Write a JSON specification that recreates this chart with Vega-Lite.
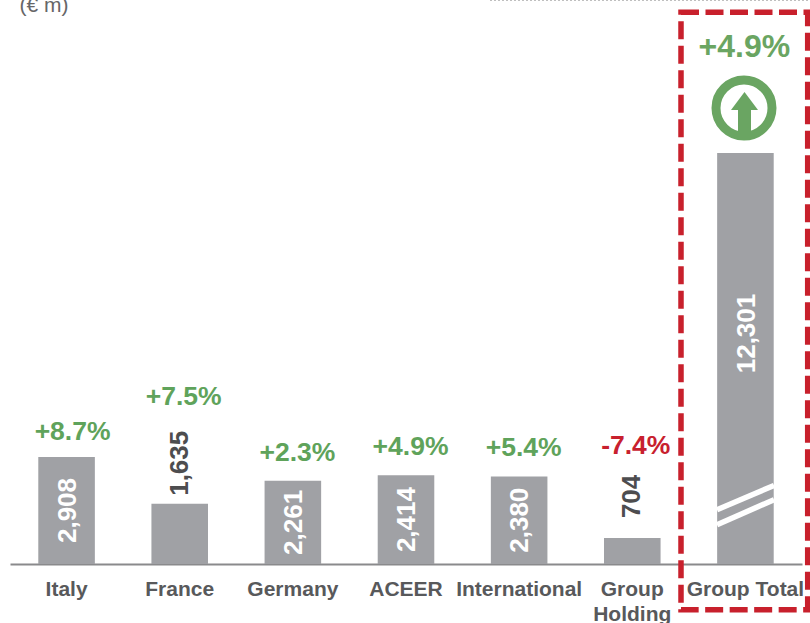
{
"$schema":"https://vega.github.io/schema/vega-lite/v6.json",
"width":810,"height":564,"autosize":"none",
"padding":{"left":0,"top":0,"right":0,"bottom":59},
"background":"white",
"config":{"view":{"stroke":null},"axisY":{"disable":true},"font":"Liberation Sans"},
"datasets":{
"regions":[
{"region":"Italy","shown":2908,"value":2908,"change":"+8.7%","room":"inside"},
{"region":"France","shown":1635,"value":1635,"change":"+7.5%","room":"outside"},
{"region":"Germany","shown":2261,"value":2261,"change":"+2.3%","room":"inside"},
{"region":"ACEER","shown":2414,"value":2414,"change":"+4.9%","room":"inside"},
{"region":"International","shown":2380,"value":2380,"change":"+5.4%","room":"inside"},
{"region":"Group Holding","shown":704,"value":704,"change":"-7.4%","room":"outside"},
{"region":"Group Total","shown":11168,"value":12301,"change":"+4.9%","room":"total"}
]},
"data":{"name":"regions"},
"resolve":{"scale":{"x":"independent"}},
"layer":[
{"encoding":{
  "x":{"field":"region","type":"nominal","sort":null,
    "scale":{"range":[10,802],"paddingInner":0.5,"paddingOuter":0.25},
    "title":null,
    "axis":{"domainColor":"#8a8a8c","domainWidth":2,"ticks":false,"labelAngle":0,"labelFont":"Liberation Sans","labelFontWeight":"bold","labelFontSize":21,"labelColor":"#58595b","labelPadding":14,"labelLineHeight":25,"labelLimit":200,"labelOverlap":false,"labelBaseline":"top","grid":false,
      "labelExpr":"datum.value=='Group Holding'?['Group','Holding']:datum.value"}},
  "y":{"field":"shown","type":"quantitative","scale":{"domain":[0,15326],"nice":false,"zero":false},"title":null}
 },
 "layer":[
  {"mark":{"type":"bar","color":"#a0a1a5"}},
  {"transform":[{"filter":"datum.room=='inside'"},{"calculate":"datum.shown/2","as":"mid"}],
   "mark":{"type":"text","angle":270,"align":"center","baseline":"middle","fontSize":26,"fontWeight":"bold","color":"white","xOffset":1},
   "encoding":{"y":{"field":"mid","type":"quantitative"},"text":{"field":"value","type":"quantitative","format":","}}},
  {"transform":[{"filter":"datum.room=='total'"},{"calculate":"datum.shown/2","as":"mid"}],
   "mark":{"type":"text","angle":270,"align":"center","baseline":"middle","fontSize":26,"fontWeight":"bold","color":"white","yOffset":-25,"xOffset":2},
   "encoding":{"y":{"field":"mid","type":"quantitative"},"text":{"field":"value","type":"quantitative","format":","}}},
  {"transform":[{"filter":"datum.region=='France'"}],
   "mark":{"type":"text","angle":270,"align":"left","baseline":"middle","fontSize":26,"fontWeight":"bold","color":"#4d4d4f","yOffset":-8},
   "encoding":{"text":{"field":"value","type":"quantitative","format":","}}},
  {"transform":[{"filter":"datum.region=='Group Holding'"}],
   "mark":{"type":"text","angle":270,"align":"left","baseline":"middle","fontSize":26,"fontWeight":"bold","color":"#4d4d4f","yOffset":-20},
   "encoding":{"text":{"field":"value","type":"quantitative","format":","}}},
  {"transform":[{"filter":"datum.room=='inside' && datum.region!='Italy'"}],
   "mark":{"type":"text","align":"center","baseline":"middle","fontSize":26.5,"fontWeight":"bold","color":"#5fa35b","xOffset":4.5,"yOffset":-28},
   "encoding":{"text":{"field":"change"}}},
  {"transform":[{"filter":"datum.region=='Italy'"}],
   "mark":{"type":"text","align":"center","baseline":"middle","fontSize":26.5,"fontWeight":"bold","color":"#5fa35b","xOffset":6,"yOffset":-25},
   "encoding":{"text":{"field":"change"}}},
  {"transform":[{"filter":"datum.region=='France'"}],
   "mark":{"type":"text","align":"center","baseline":"middle","fontSize":26.5,"fontWeight":"bold","color":"#5fa35b","xOffset":4,"yOffset":-107},
   "encoding":{"text":{"field":"change"}}},
  {"transform":[{"filter":"datum.region=='Group Holding'"}],
   "mark":{"type":"text","align":"center","baseline":"middle","fontSize":26.5,"fontWeight":"bold","color":"#c8202e","xOffset":3.5,"yOffset":-92},
   "encoding":{"text":{"field":"change"}}},
  {"transform":[{"filter":"datum.region=='Group Total'"}],
   "mark":{"type":"text","align":"center","baseline":"middle","fontSize":32,"fontWeight":"bold","color":"#6aa562","xOffset":-1,"yOffset":-106},
   "encoding":{"text":{"field":"change"}}}
 ]},
{"layer":[
  {"data":{"values":[{"x":490,"x2":810,"y":15326}]},
   "mark":{"type":"rule","color":"#aaaaaa","strokeWidth":1.5,"strokeDash":[2,2]},
   "encoding":{"x":{"field":"x","type":"quantitative","scale":{"domain":[0,810],"range":[0,810],"nice":false,"zero":false},"axis":null},"x2":{"field":"x2"},"y":{"field":"y","type":"quantitative"}}},
  {"data":{"values":[{"x":681,"x2":807.7,"y":14990,"y2":-1240}]},
   "mark":{"type":"rect","filled":false,"stroke":"#c8202c","strokeWidth":5.5,"strokeDash":[18,6.5]},
   "encoding":{"x":{"field":"x","type":"quantitative","axis":null},"x2":{"field":"x2"},"y":{"field":"y","type":"quantitative"},"y2":{"field":"y2"}}},
  {"data":{"values":[{"x":744,"y":12391}]},
   "mark":{"type":"point","shape":"circle","filled":false,"stroke":"#6aa562","strokeWidth":9,"size":3136,"opacity":1},
   "encoding":{"x":{"field":"x","type":"quantitative","axis":null},"y":{"field":"y","type":"quantitative"}}},
  {"data":{"values":[{"x":744.5,"y":12283}]},
   "mark":{"type":"point","shape":"M0,-1L0.675,-0.1L0.325,-0.1L0.325,1L-0.325,1L-0.325,-0.1L-0.675,-0.1Z","filled":true,"color":"#6aa562","size":1600,"opacity":1},
   "encoding":{"x":{"field":"x","type":"quantitative","axis":null},"y":{"field":"y","type":"quantitative"}}},
  {"data":{"values":[
    {"slash":"upper","x":717,"y":1476},{"slash":"upper","x":774,"y":2133},
    {"slash":"lower","x":717,"y":1068},{"slash":"lower","x":774,"y":1747}]},
   "mark":{"type":"line","color":"white","strokeWidth":5.5},
   "encoding":{"x":{"field":"x","type":"quantitative","axis":null},"y":{"field":"y","type":"quantitative"},"detail":{"field":"slash"}}},
  {"data":{"values":[{"x":44,"y":15163,"note":"(€ m)"}]},
   "mark":{"type":"text","align":"center","baseline":"middle","fontSize":21,"color":"#666668"},
   "encoding":{"x":{"field":"x","type":"quantitative","axis":null},"y":{"field":"y","type":"quantitative"},"text":{"field":"note"}}}
 ]}
]}
